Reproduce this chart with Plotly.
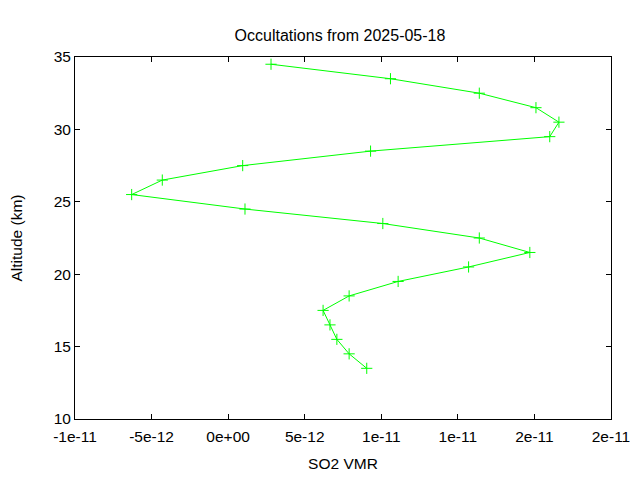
import plotly.graph_objects as go

altitude_km = [34.5, 33.5, 32.5, 31.5, 30.5, 29.5, 28.5, 27.5, 26.5, 25.5, 24.5,
               23.5, 22.5, 21.5, 20.5, 19.5, 18.5, 17.5, 16.5, 15.5, 14.5, 13.5]
so2_vmr = [2.8e-12, 1.06e-11, 1.64e-11, 2.01e-11, 2.16e-11, 2.10e-11, 9.3e-12, 9.5e-13,
           -4.3e-12, -6.3e-12, 1.1e-12, 1.01e-11, 1.64e-11, 1.97e-11, 1.57e-11, 1.11e-11,
           7.9e-12, 6.2e-12, 6.65e-12, 7.1e-12, 7.9e-12, 9.05e-12]

x_tickvals = [-1e-11, -5e-12, 0, 5e-12, 1e-11, 1.5e-11, 2e-11, 2.5e-11]
x_ticktext = ["-1e-11", "-5e-12", "0e+00", "5e-12", "1e-11", "1e-11", "2e-11", "2e-11"]
y_tickvals = [10, 15, 20, 25, 30, 35]

FONT = "Liberation Sans, Arial, sans-serif"
FS = 15.5

fig = go.Figure()
fig.add_trace(go.Scatter(
    x=so2_vmr, y=altitude_km, mode="lines+markers",
    line=dict(color="#00ff00", width=1),
    marker=dict(symbol="cross-thin", size=8, line=dict(color="#00ff00", width=1)),
    showlegend=False,
))

axis_common = dict(
    showline=True, linecolor="black", linewidth=1, mirror="ticks",
    ticks="inside", ticklen=5, tickcolor="black", showgrid=False, zeroline=False,
    tickfont=dict(family=FONT, size=FS, color="black"),
)

fig.update_layout(
    width=640, height=480,
    margin=dict(l=67, r=37, t=49, b=69, autoexpand=False),
    paper_bgcolor="white", plot_bgcolor="white",
    title=dict(text="Occultations from 2025-05-18", x=332 / 640, xanchor="center",
               xref="container",
               y=1 - 27 / 480, yanchor="middle",
               font=dict(family=FONT, size=16, color="black")),
    xaxis=dict(range=[-1e-11, 2.5e-11], tickvals=x_tickvals, ticktext=x_ticktext,
               ticklabelstandoff=3,
               title=dict(text="SO2 VMR", standoff=14,
                          font=dict(family=FONT, size=FS, color="black")),
               **axis_common),
    yaxis=dict(range=[10, 35], tickvals=y_tickvals,
               title=dict(text="Altitude (km)", standoff=34,
                          font=dict(family=FONT, size=FS, color="black")),
               **axis_common),
)

fig.write_html("out.html")
